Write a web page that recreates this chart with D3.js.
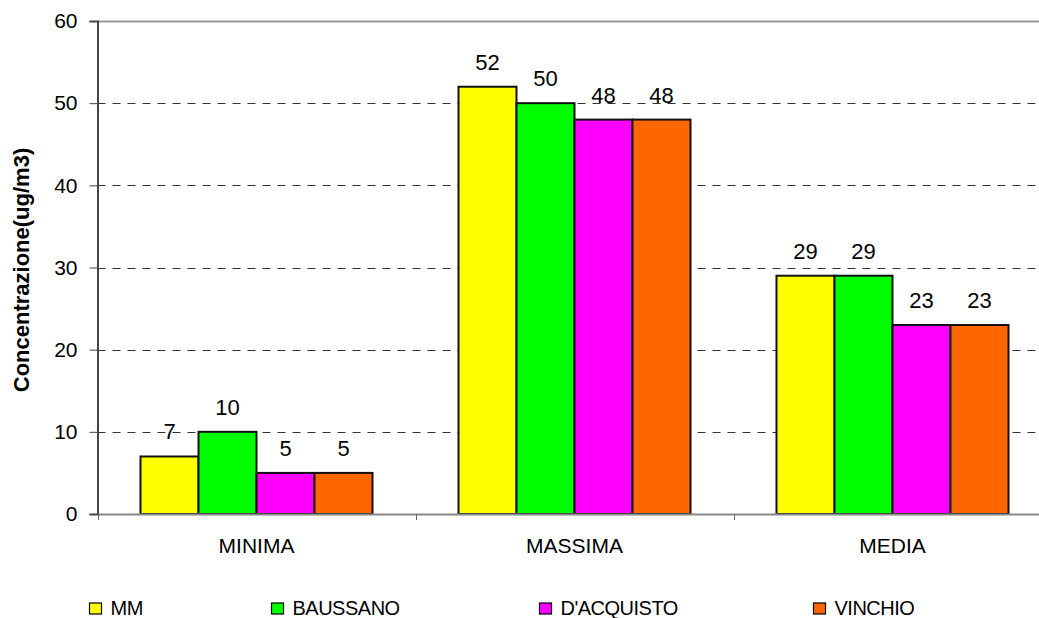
<!DOCTYPE html>
<html>
<head>
<meta charset="utf-8">
<script src="https://cdn.jsdelivr.net/npm/d3@7"></script>
<style>
  body { margin: 0; background: #fff; }
  svg { display: block; font-family: Arial, "Liberation Sans", sans-serif; }
</style>
</head>
<body>
<svg id="chart" width="1039" height="618"></svg>
<script>
// Concentration summary per station
const categories = ["MINIMA", "MASSIMA", "MEDIA"];
const seriesNames = ["MM", "BAUSSANO", "D'ACQUISTO", "VINCHIO"];
const mmValues = [7, 52, 29];
const baussanoValues = [10, 50, 29];
const dacquistoValues = [5, 48, 23];
const vinchioValues = [5, 48, 23];
const yTicks = [0, 10, 20, 30, 40, 50, 60];
const colors = ["#ffff00", "#00ff00", "#ff00ff", "#ff6600"];

const seriesValues = [mmValues, baussanoValues, dacquistoValues, vinchioValues];

const svg = d3.select("#chart");
const plotLeft = 97.5, plotTop = 21, plotBottom = 514, plotRight = 1051.5;
const FONT = "Arial, 'Liberation Sans', sans-serif";

const x = d3.scaleBand().domain(categories).range([plotLeft, plotRight]).paddingInner(0).paddingOuter(0);
const y = d3.scaleLinear().domain([0, 60]).range([plotBottom, plotTop]);
const inner = d3.scaleBand().domain(seriesNames).range([0, 232]);

// Gridlines
svg.append("g").selectAll("line")
  .data(yTicks.filter(t => t > 0 && t < 60))
  .join("line")
  .attr("x1", plotLeft).attr("x2", plotRight)
  .attr("y1", d => Math.round(y(d)) + 0.5).attr("y2", d => Math.round(y(d)) + 0.5)
  .attr("stroke", "#333").attr("stroke-width", 1)
  .attr("stroke-dasharray", "8,7");

// Top line
svg.append("line")
  .attr("x1", plotLeft).attr("x2", plotRight)
  .attr("y1", y(60) + 0.5).attr("y2", y(60) + 0.5)
  .attr("stroke", "#999").attr("stroke-width", 2);

// Bars
const groups = svg.append("g").selectAll("g")
  .data(categories)
  .join("g")
  .attr("transform", d => `translate(${x(d) + x.bandwidth() / 2 - 116},0)`);

groups.selectAll("rect")
  .data((c, ci) => seriesNames.map((s, si) => ({ s, si, v: seriesValues[si][ci] })))
  .join("rect")
  .attr("x", d => inner(d.s))
  .attr("width", inner.bandwidth())
  .attr("y", d => y(d.v))
  .attr("height", d => y(0) - y(d.v))
  .attr("fill", d => colors[d.si])
  .attr("stroke", "#111")
  .attr("stroke-width", 2);

groups.selectAll("text")
  .data((c, ci) => seriesNames.map((s, si) => ({ s, si, v: seriesValues[si][ci] })))
  .join("text")
  .attr("x", d => inner(d.s) + inner.bandwidth() / 2)
  .attr("y", d => y(d.v) - 17)
  .attr("text-anchor", "middle")
  .attr("font-size", 22)
  .attr("fill", "#000")
  .text(d => d.v);

// Y axis
const yAxis = d3.axisLeft(y).tickValues(yTicks).tickSize(8).tickPadding(12);
const yg = svg.append("g").attr("transform", `translate(${plotLeft},0)`).call(yAxis);
yg.select(".domain").attr("stroke", "#444").attr("stroke-width", 2);
yg.selectAll(".tick line").attr("stroke", "#444");
yg.selectAll(".tick text").attr("font-size", 21).attr("fill", "#000")
  .attr("font-family", FONT);

// X axis
const xAxis = d3.axisBottom(x).tickSize(0);
const xg = svg.append("g").attr("transform", `translate(0,${plotBottom})`).call(xAxis);
xg.select(".domain").attr("stroke", "#888").attr("stroke-width", 2);
xg.selectAll(".tick text").attr("font-size", 21).attr("fill", "#000")
  .attr("font-family", FONT)
  .attr("y", 39).attr("dy", 0);
// category boundary ticks
xg.append("g").selectAll("line")
  .data(categories)
  .join("line")
  .attr("x1", d => Math.round(x(d)) + 0.5).attr("x2", d => Math.round(x(d)) + 0.5)
  .attr("y1", 0).attr("y2", 6)
  .attr("stroke", "#666");

// Y axis title
svg.append("text")
  .attr("transform", `translate(29,270) rotate(-90)`)
  .attr("text-anchor", "middle")
  .attr("font-size", 22)
  .attr("font-weight", "bold")
  .attr("fill", "#000")
  .text("Concentrazione(ug/m3)");

// Legend
const legendX = [89.5, 271.5, 539.5, 813.5];
const legend = svg.append("g").selectAll("g")
  .data(seriesNames)
  .join("g")
  .attr("transform", (d, i) => `translate(${legendX[i]},603)`);
legend.append("rect")
  .attr("width", 12).attr("height", 11)
  .attr("fill", (d, i) => colors[i])
  .attr("stroke", "#000").attr("stroke-width", 1.2);
legend.append("text")
  .attr("x", 21).attr("y", 12)
  .attr("font-size", 20)
  .attr("letter-spacing", "-0.5")
  .attr("fill", "#000")
  .text(d => d);
</script>
</body>
</html>
